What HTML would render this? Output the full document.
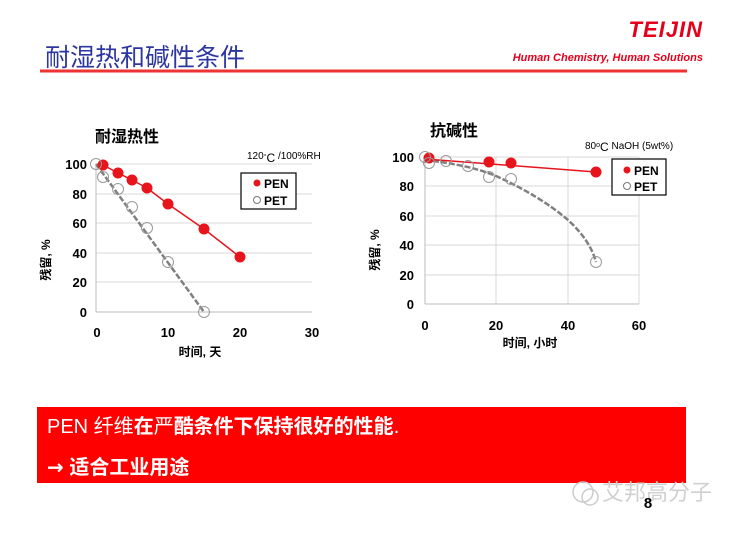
<!DOCTYPE html>
<html><head><meta charset="utf-8"><style>
body{margin:0;background:#fff;}
svg text{font-family:"Liberation Sans","Noto Sans CJK SC",sans-serif;}
</style></head><body>
<svg width="741" height="530" viewBox="0 0 741 530" xmlns="http://www.w3.org/2000/svg">
<rect width="741" height="530" fill="#fff"/>
<text x="45" y="66" font-size="25" fill="#2c36a0" font-family="Noto Sans CJK SC, sans-serif">耐湿热和碱性条件</text>
<line x1="40" y1="71" x2="687" y2="71" stroke="#e33" stroke-width="3"/>
<text x="703" y="37" font-size="22" font-weight="bold" font-style="italic" fill="#e4001b" text-anchor="end" letter-spacing="1">TEIJIN</text>
<text x="703" y="61" font-size="11" font-weight="bold" font-style="italic" fill="#e4001b" text-anchor="end">Human Chemistry, Human Solutions</text>

<g stroke="#d9d9d9" stroke-width="1">
<line x1="96" y1="164" x2="312" y2="164"/><line x1="96" y1="194" x2="312" y2="194"/>
<line x1="96" y1="223" x2="312" y2="223"/><line x1="96" y1="253" x2="312" y2="253"/>
<line x1="96" y1="282" x2="312" y2="282"/>
</g>
<line x1="96" y1="164" x2="96" y2="312" stroke="#bbb"/>
<line x1="96" y1="312" x2="312" y2="312" stroke="#bbb"/>
<g font-size="13" font-weight="bold" text-anchor="end" fill="#000">
<text x="87" y="169">100</text><text x="87" y="199">80</text><text x="87" y="228">60</text>
<text x="87" y="258">40</text><text x="87" y="287">20</text><text x="87" y="317">0</text>
</g>
<g font-size="13" font-weight="bold" text-anchor="middle">
<text x="97" y="337">0</text><text x="168" y="337">10</text><text x="240" y="337">20</text><text x="312" y="337">30</text>
</g>
<text x="200" y="356" font-size="12" font-weight="bold" text-anchor="middle">时间, 天</text>
<text transform="translate(50,260) rotate(-90)" font-size="12" font-weight="bold" text-anchor="middle">残留, %</text>
<text x="95" y="142" font-size="16" font-weight="bold">耐湿热性</text>
<text x="247" y="159" font-size="10">120<tspan font-size="7">°</tspan><tspan font-size="12" dy="3">C</tspan><tspan dy="-3"> /100%RH</tspan></text>
<line x1="96" y1="164" x2="204" y2="312" stroke="#808080" stroke-width="2.5" stroke-dasharray="6,2"/>
<polyline points="103,165 118,173 132,180 147,188 168,204 204,229 240,257" fill="none" stroke="#e8141c" stroke-width="1.5"/>
<g fill="#e8141c">
<circle cx="103" cy="165" r="5.5"/><circle cx="118" cy="173" r="5.5"/><circle cx="132" cy="180" r="5.5"/>
<circle cx="147" cy="188" r="5.5"/><circle cx="168" cy="204" r="5.5"/><circle cx="204" cy="229" r="5.5"/><circle cx="240" cy="257" r="5.5"/>
</g>
<g fill="none" stroke="#999" stroke-width="1">
<circle cx="96" cy="164" r="5.5"/><circle cx="103" cy="177" r="5.5"/><circle cx="118" cy="189" r="5.5"/>
<circle cx="132" cy="207" r="5.5"/><circle cx="147" cy="228" r="5.5"/><circle cx="168" cy="262" r="5.5"/><circle cx="204" cy="312" r="5.5"/>
</g>
<rect x="241" y="173" width="55" height="36" fill="#fff" stroke="#000" stroke-width="1.2"/>
<circle cx="257" cy="183" r="3.5" fill="#e8141c"/>
<text x="264" y="188" font-size="12" font-weight="bold">PEN</text>
<circle cx="257" cy="200" r="3.5" fill="#fff" stroke="#777"/>
<text x="264" y="205" font-size="12" font-weight="bold">PET</text>

<g stroke="#d9d9d9" stroke-width="1">
<line x1="425" y1="157" x2="639" y2="157"/><line x1="425" y1="186" x2="639" y2="186"/>
<line x1="425" y1="216" x2="639" y2="216"/><line x1="425" y1="245" x2="639" y2="245"/>
<line x1="425" y1="275" x2="639" y2="275"/>
<line x1="496" y1="157" x2="496" y2="304"/><line x1="568" y1="157" x2="568" y2="304"/><line x1="639" y1="157" x2="639" y2="304"/>
</g>
<line x1="425" y1="157" x2="425" y2="304" stroke="#bbb"/>
<line x1="425" y1="304" x2="639" y2="304" stroke="#bbb"/>
<g font-size="13" font-weight="bold" text-anchor="end">
<text x="414" y="162">100</text><text x="414" y="191">80</text><text x="414" y="221">60</text>
<text x="414" y="250">40</text><text x="414" y="280">20</text><text x="414" y="309">0</text>
</g>
<g font-size="13" font-weight="bold" text-anchor="middle">
<text x="425" y="330">0</text><text x="496" y="330">20</text><text x="568" y="330">40</text><text x="639" y="330">60</text>
</g>
<text x="530" y="347" font-size="12" font-weight="bold" text-anchor="middle">时间, 小时</text>
<text transform="translate(379,250) rotate(-90)" font-size="12" font-weight="bold" text-anchor="middle">残留, %</text>
<text x="430" y="136" font-size="16" font-weight="bold">抗碱性</text>
<text x="585" y="149" font-size="10">80<tspan font-size="7" dy="-2">o</tspan><tspan font-size="12" dy="4">C</tspan><tspan dy="-2"> NaOH (5wt%)</tspan></text>
<path d="M425,160 Q470,165 496,176 Q540,196 568,220 Q590,240 596,262" fill="none" stroke="#808080" stroke-width="2.5" stroke-dasharray="6,2"/>
<line x1="425" y1="159" x2="596" y2="172" stroke="#e8141c" stroke-width="1.5"/>
<g fill="#e8141c">
<circle cx="429" cy="158" r="5.5"/><circle cx="489" cy="162" r="5.5"/><circle cx="511" cy="163" r="5.5"/><circle cx="596" cy="172" r="5.5"/>
</g>
<g fill="none" stroke="#999" stroke-width="1">
<circle cx="425" cy="157" r="5.5"/><circle cx="429" cy="163" r="5.5"/><circle cx="446" cy="161" r="5.5"/>
<circle cx="468" cy="166" r="5.5"/><circle cx="489" cy="177" r="5.5"/><circle cx="511" cy="179" r="5.5"/><circle cx="596" cy="262" r="5.5"/>
</g>
<rect x="612" y="159" width="54" height="36" fill="#fff" stroke="#000" stroke-width="1.2"/>
<circle cx="627" cy="170" r="3.5" fill="#e8141c"/>
<text x="634" y="175" font-size="12" font-weight="bold">PEN</text>
<circle cx="627" cy="186" r="3.5" fill="#fff" stroke="#777"/>
<text x="634" y="191" font-size="12" font-weight="bold">PET</text>

<rect x="37" y="407" width="649" height="76" fill="#fe0000"/>
<text x="47" y="433" font-size="20" fill="#fff">PEN 纤维<tspan font-weight="bold">在</tspan>严<tspan font-weight="bold">酷条件下保持很好的性能</tspan>.</text>
<text x="47" y="474" font-size="20" fill="#fff" font-weight="bold"><tspan font-family="DejaVu Sans, sans-serif">→</tspan> 适合工业用途</text>

<circle cx="583" cy="492" r="10" fill="none" stroke="#ccc" stroke-width="1.5"/>
<circle cx="590" cy="497" r="8" fill="none" stroke="#ccc" stroke-width="1.5"/>
<text x="602" y="500" font-size="22" fill="#d0d0d0" font-family="Noto Sans CJK SC, sans-serif">艾邦高分子</text>
<text x="648" y="508" font-size="15" font-weight="bold" fill="#000" font-family="Liberation Serif, serif" text-anchor="middle">8</text>
</svg>
</body></html>
